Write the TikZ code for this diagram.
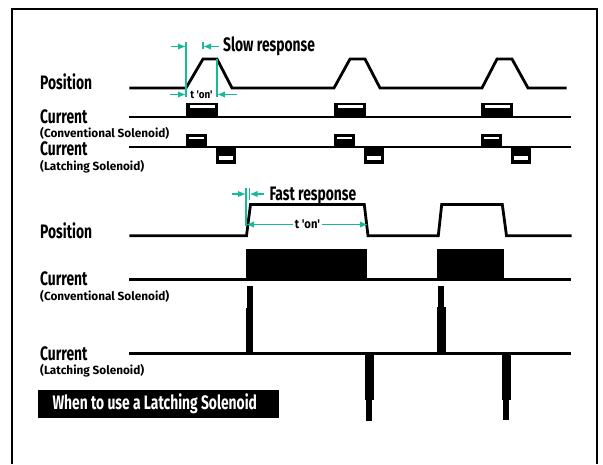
\documentclass[tikz,border=0pt]{standalone}
\usepackage{fontspec}
\usetikzlibrary{arrows.meta}
\newfontfamily\cf{Fira Sans}[FakeStretch=0.71]
\newfontfamily\cfs{Fira Sans}[FakeStretch=0.9]
\newfontfamily\cfw{Fira Sans}[FakeStretch=1.0]
\definecolor{tgreen}{RGB}{22,186,150}
\tikzset{
  sig/.style={line width=2.8pt},
  frm/.style={line width=2pt},
  dimline/.style={draw=tgreen, line width=1.5pt},
  dimarrow/.style={dimline, -{Latex[length=8pt,width=6.5pt]}},
  lbl/.style={font=\cf\bfseries\fontsize{19.5}{21}\selectfont, anchor=base west, inner sep=0pt},
  sublbl/.style={font=\cfw\bfseries\fontsize{11.8}{13}\selectfont, anchor=base west, inner sep=0pt},
  tonlbl/.style={font=\cfs\bfseries\fontsize{12.5}{13}\selectfont, anchor=base, inner sep=0pt},
}
\begin{document}
\begin{tikzpicture}[x=1pt,y=-1pt]
\useasboundingbox (0,0) rectangle (603,464);
% frame
\draw[frm] (12,464) -- (12,9) -- (597,9) -- (597,464);

% ===== slow response section =====
\draw[sig] (129.3,88) -- (186,88) -- (203,59) -- (217,59) -- (232,88)
  -- (334,88) -- (350,59) -- (365,59) -- (380,88)
  -- (482,88) -- (497,59) -- (512,59) -- (528,88) -- (566.7,88);
\draw[sig] (129.3,117) -- (570.7,117);
\draw[sig] (129.3,147) -- (570.7,147);
\foreach \o in {0,148,295} {
  % conventional current box
  \fill ({\o+186},102.5) rectangle ({\o+218},117);
  \fill[white] ({\o+189.5},105) rectangle ({\o+215},108.3);
  % latching positive box
  \fill ({\o+186},134) rectangle ({\o+207},147);
  \fill[white] ({\o+188.5},136.5) rectangle ({\o+203.5},139.3);
  % latching negative box
  \fill ({\o+215.5},147) rectangle ({\o+236},163.5);
  \fill[white] ({\o+219},155.5) rectangle ({\o+232.5},160.3);
}
% dimension marks (slow)
\coordinate (sv1t) at (186,42); \coordinate (sv1b) at (186,97);
\coordinate (sv2t) at (203,42); \coordinate (sv2b) at (203,49);
\coordinate (sv3t) at (217,59); \coordinate (sv3b) at (217,97);
\draw[dimline] (sv1t) -- (sv1b);
\draw[dimline] (sv2t) -- (sv2b);
\draw[dimline] (sv3t) -- (sv3b);
\coordinate (sa1) at (171,46.5); \coordinate (sa1e) at (186,46.5);
\coordinate (sa2) at (219,46.5); \coordinate (sa2e) at (203,46.5);
\draw[dimarrow] (sa1) -- (sa1e);
\draw[dimarrow] (sa2) -- (sa2e);
\coordinate (sb1) at (170,94.5); \coordinate (sb1e) at (186,94.5);
\coordinate (sb2) at (237,94.5); \coordinate (sb2e) at (217,94.5);
\draw[dimarrow] (sb1) -- (sb1e);
\draw[dimarrow] (sb2) -- (sb2e);
\node[tonlbl, font=\cfs\bfseries\fontsize{11}{12}\selectfont] (ton1) at (201.5,98.5) {t 'on'};
\node[lbl] (slow) at (223,51) {Slow response};

\node[lbl] (pos1) at (40,89) {Position};
\node[lbl] (cur1) at (40,123.5) {Current};
\node[sublbl] (conv1) at (40,137.5) {(Conventional Solenoid)};
\node[lbl] (cur2) at (40,155) {Current};
\node[sublbl] (latch1) at (40,170) {(Latching Solenoid)};

% ===== fast response section =====
\draw[sig] (129.3,235.7) -- (246.5,235.7) -- (250.5,204.5) -- (364.3,204.5) -- (368,235.7)
  -- (438.3,235.7) -- (441.7,204.5) -- (502.3,204.5) -- (506.5,235.7) -- (571.7,235.7);
\draw[sig] (129.3,279.3) -- (570.7,279.3);
\fill (245.5,249) rectangle (366.7,279.3);
\fill (436.7,248.5) rectangle (504.3,279.3);
\draw[sig] (129.3,353.3) -- (571,353.3);
% spikes
\fill (245.5,353.3) rectangle (253.3,308);
\fill (246.5,309) rectangle (252.5,286);
\fill (437.3,353.3) rectangle (445.7,307);
\fill (438.3,308) rectangle (444.3,286);
\fill (364.5,353.3) rectangle (373.5,400);
\fill (366,399) rectangle (372,420.5);
\fill (501.7,353.3) rectangle (510.7,399.5);
\fill (503.3,398.5) rectangle (509.3,419.5);

% dimension marks (fast)
\coordinate (fv1t) at (246,188.3); \coordinate (fv1b) at (246,226);
\coordinate (fv2t) at (249.5,188.3); \coordinate (fv2b) at (249.5,200);
\draw[dimline] (fv1t) -- (fv1b);
\draw[dimline] (fv2t) -- (fv2b);
\coordinate (fa1) at (232,194); \coordinate (fa1e) at (246,194);
\coordinate (fa2) at (263.5,194); \coordinate (fa2e) at (249.5,194);
\draw[dimarrow] (fa1) -- (fa1e);
\draw[dimarrow] (fa2) -- (fa2e);
\node[tonlbl] (ton2) at (307.5,228.8) {t 'on'};
\coordinate (fb1e) at (246,224.5); \coordinate (fb2e) at (368,224.5);
\draw[dimarrow] (ton2.west |- fb1e) ++(-1.5,0) -- (fb1e);
\draw[dimarrow] (ton2.east |- fb2e) ++(1.5,0) -- (fb2e);
\node[lbl] (fast) at (269.3,200.7) {Fast response};

\node[lbl] (pos2) at (40,238) {Position};
\node[lbl] (cur3) at (40,285.5) {Current};
\node[sublbl] (conv2) at (40,300) {(Conventional Solenoid)};
\node[lbl] (cur4) at (40,360) {Current};
\node[sublbl] (latch2) at (40,374) {(Latching Solenoid)};

% caption box
\fill (38.3,390) rectangle (279,417.7);
\node[lbl, text=white] (cap) at (52.3,409.3) {When to use a Latching Solenoid};
\end{tikzpicture}
\end{document}
